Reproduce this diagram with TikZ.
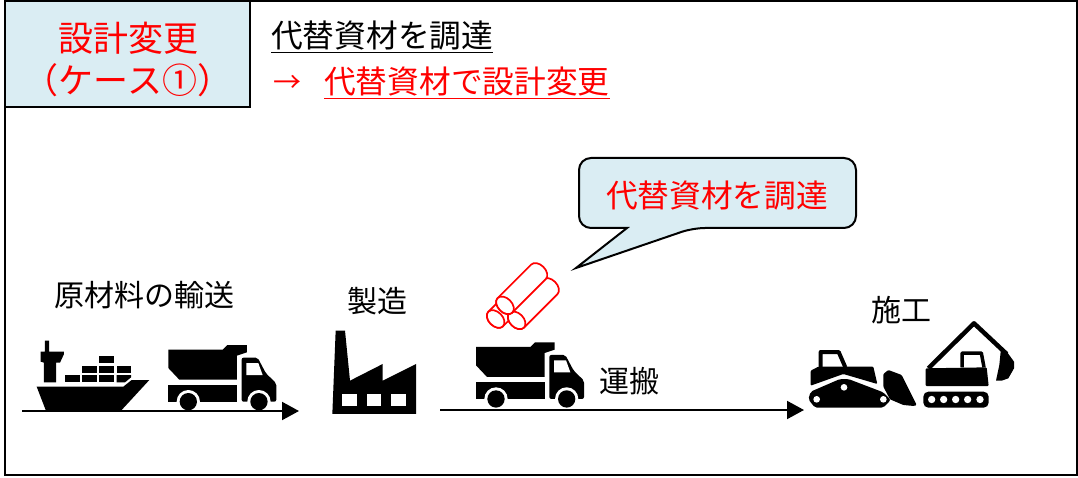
\documentclass[tikz,border=0pt]{standalone}
\usepackage{fontspec}
\setmainfont{Noto Sans CJK JP}
\usetikzlibrary{arrows.meta}
\definecolor{paleblue}{HTML}{DAEDF3}
\newcommand{\fsz}[1]{\fontsize{#1pt}{#1pt}\selectfont}
\newcommand{\dumptruckshape}{%
    \fill[black] (0,14)--(163,14)--(177,0)--(236,0)--(236,22)--(206,32)--(206,104)--(33,104)--(0,69)--cycle;
    \fill[black] (0,119)--(206,119)--(206,170)--(0,170)--cycle;
    \fill[black,rounded corners=2pt] (220,38)--(268,38)--(293,85)--(324,115)--(324,170)--(220,170)--cycle;
    \fill[white] (234,54)--(270,54)--(283,90)--(234,90)--cycle;
    \fill[white] (60,170) circle[radius=35];
    \fill[white] (272,170) circle[radius=35];
    \fill[white] (-2,170) rectangle (330,210);
    \fill[black] (60,170) circle[radius=26];
    \fill[black] (272,170) circle[radius=26];
}
\tikzset{
  frameline/.style={draw=black,line width=2pt},
  flow/.style={draw=black,line width=2pt,-{Triangle[length=17pt,width=18pt]}},
  lbl/.style={inner sep=0pt,text=black,font=\fsz{30}},
  redlbl/.style={inner sep=0pt,text=red,font=\fsz{31.7}},
  tube/.style={draw=red,line width=1.7pt,fill=white}
}
\begin{document}
\begin{tikzpicture}[x=1pt,y=1pt,yscale=-1]
\useasboundingbox (0,0) rectangle (1078,478);
\fill[white] (0,0) rectangle (1078,478);
% outer frame and heading box
\path[frameline] (5,1.5) rectangle (1077,475);
\path[frameline,fill=paleblue] (5,1.5) rectangle (250,107);
\node[inner sep=0pt,text=red,font=\fsz{35}] (t1) at (128,38) {設計変更};
\node[inner sep=0pt,text=red,font=\fsz{35}] (t2) at (128,80) {（ケース①）};
\node[inner sep=0pt,anchor=west,font=\fsz{31.7}] (h1) at (271,37) {\underline{代替資材を調達}};
\node[inner sep=0pt,text=red,font=\fsz{28}] (h2) at (287,84) {→};
\node[inner sep=0pt,anchor=west,text=red,font=\fsz{31.7}] (h3) at (324,83) {\underline{代替資材で設計変更}};
% callout
\path[frameline,fill=paleblue]
  [rounded corners=12pt] (627,228) -- (579,228) -- (579,158) -- (856,158) -- (856,228) -- (693,228)
  [sharp corners] -- (576,268) -- cycle;
\node[redlbl] (c1) at (717,196) {代替資材を調達};
% labels
\node[lbl] (l1) at (144,295) {原材料の輸送};
\node[lbl] (l2) at (377,301) {製造};
\node[lbl] (l3) at (629,381) {運搬};
\node[lbl] (l4) at (901,310) {施工};
% ship
\begin{scope}[shift={(0,320)},scale=1/3]
  \fill[black] (110,200)--(370,200)--(395,180)--(448,180)--(365,270)--(137,270)--cycle;
  \fill[black] (135,62)--(147,62)--(147,95)--(192,95)--(192,102)--(180,128)--(168,128)--(168,187)--(132,187)--(132,128)--(122,125)--(122,95)--(135,95)--cycle;
  \foreach \a/\b/\c/\d in {195/165/240/187,247/165/292/187,298/165/343/187,247/137/292/160,298/137/343/160,350/137/393/160,298/108/343/130}
    \fill[black] (\a,\b) rectangle (\c,\d);
  \fill[black] (350,165)--(393,165)--(393,172)--(375,187)--(350,187)--cycle;
\end{scope}
% trucks
\begin{scope}[shift={(168.3,345)},scale=1/3]\dumptruckshape\end{scope}
\begin{scope}[shift={(476,342.3)},scale=1/3]\dumptruckshape\end{scope}
% factory
\begin{scope}[shift={(320,250)},scale=1/3]
  \fill[black] (47,242)--(75,242)--(90,392)--(188,342)--(188,392)--(288,342)--(288,492)--(37,492)--cycle;
  \foreach \a/\c in {65/110,140/184,213/258}
    \fill[white] (\a,433) rectangle (\c,467);
\end{scope}
% pipes
\begin{scope}[shift={(320,250)},scale=1/3]
  \foreach \cx/\cy/\len in {527/207/90,590/211/142,555/166/142}{
    \begin{scope}[shift={(\cx,\cy)},rotate=-45]
      \path[tube] (0,-31) -- (\len,-31) arc[start angle=-90,end angle=90,x radius=21,y radius=31] -- (0,31) arc[start angle=90,end angle=270,x radius=21,y radius=31] -- cycle;
      \path[tube] (0,0) ellipse[x radius=21,y radius=31];
    \end{scope}
  }
\end{scope}
% bulldozer
\begin{scope}[shift={(790,310)},scale=1/3]
  \draw[black,line width=4pt,line join=round] (92,172)--(92,126)--(146,126)--(166,172);
  \fill[black,rounded corners=1pt] (62,182)--(85,170)--(250,170)--(262,222)--(160,192)--(62,227)--cycle;
  \fill[black,rounded corners=2pt] (55,268)--(62,245)--(150,207)--(175,207)--(280,247)--(302,270)--(280,293)--(75,293)--cycle;
  \fill[white] (80,268) circle[radius=10];
  \fill[white] (162,232) circle[radius=10];
  \fill[white] (280,268) circle[radius=10];
  \fill[black,rounded corners=1pt] (280,192)--(295,180)--(335,195)--(380,285)--(372,288)--(340,285)--(300,268)--(280,230)--cycle;
\end{scope}
% excavator
\begin{scope}[shift={(790,310)},scale=1/3]
  \draw[black,line width=4.5pt,line join=round] (415,175)--(552,40)--(650,132);
  \fill[black] (648,122)--(672,155)--(672,175)--(655,205)--(635,212)--(618,212)--(628,165)--(632,125)--cycle;
  \draw[black,line width=3.5pt,line join=round] (516,172)--(516,129)--(574,129)--(582,172);
  \fill[black,rounded corners=1pt] (407,175)--(590,172)--(596,228)--(407,228)--cycle;
  \fill[black,rounded corners=5pt] (400,245) rectangle (596,293);
  \foreach \x in {425,461,497,533,570}
    \fill[white] (\x,268.5) circle[radius=11];
\end{scope}
% flow arrows
\coordinate (a1s) at (22,411);
\coordinate (a1e) at (299,411);
\coordinate (a2s) at (440,410);
\coordinate (a2e) at (804,410);
\draw[flow] (a1s) -- (a1e);
\draw[flow] (a2s) -- (a2e);
\end{tikzpicture}
\end{document}
